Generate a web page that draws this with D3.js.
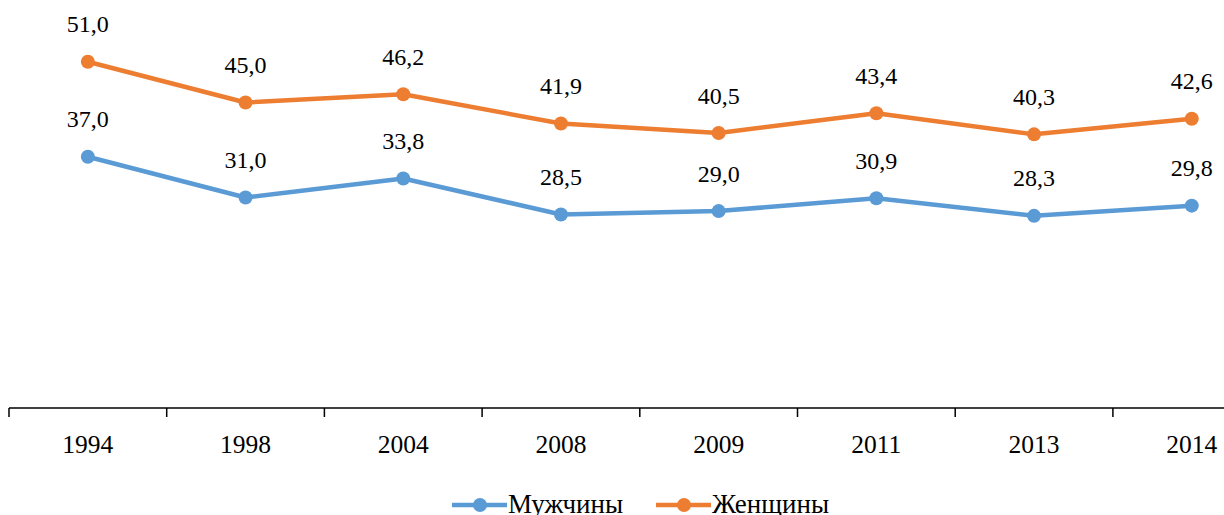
<!DOCTYPE html>
<html>
<head>
<meta charset="utf-8">
<script src="https://cdn.jsdelivr.net/npm/d3@7"></script>
<style>
  html, body { margin: 0; padding: 0; background: #fff; }
  svg { display: block; }
  svg text { font-family: 'Liberation Serif', 'Times New Roman', Times, serif; }
</style>
</head>
<body>
<svg id="chart" width="1224" height="515"></svg>
<script>
const years = ["1994", "1998", "2004", "2008", "2009", "2011", "2013", "2014"];
const men   = [37.0, 31.0, 33.8, 28.5, 29.0, 30.9, 28.3, 29.8];
const women = [51.0, 45.0, 46.2, 41.9, 40.5, 43.4, 40.3, 42.6];
const seriesNames  = ["Мужчины", "Женщины"];
const seriesColors = ["#5B9BD5", "#ED7D31"];

const FONT = "'Liberation Serif', 'Times New Roman', Times, serif";
const svg = d3.select("#chart");
const fmt = v => d3.format(".1f")(v).replace(".", ",");

// the category band runs on past the right edge of the drawing
const x = d3.scaleBand().domain(years).range([9, 1270.6]).padding(0);
const y = d3.scaleLinear().domain([0, 60]).range([408, 408 - 60 * 6.79]);
const cx = (d, i) => x(years[i]) + x.bandwidth() / 2;

// category axis
const axis = svg.append("g")
  .attr("transform", "translate(0,408)")
  .call(d3.axisBottom(x).tickSize(0).tickPadding(27))
  .attr("font-family", FONT);
axis.select(".domain").attr("stroke", "#000").attr("stroke-width", 1.5)
  .attr("d", `M${x.range()[0]},0H${x.range()[1]}`);
axis.selectAll(".tick text").attr("font-size", 25.5).attr("fill", "#000")
  .style("font-family", FONT);
axis.selectAll(".tick line").remove();
// tick marks sit between categories
axis.selectAll(".sep").data(years).enter().append("line")
  .attr("class", "sep")
  .attr("x1", d => x(d)).attr("x2", d => x(d))
  .attr("y1", 0).attr("y2", 9)
  .attr("stroke", "#000").attr("stroke-width", 1.5);

const series = [men, women];
const line = d3.line().x(cx).y(d => y(d));

series.forEach((vals, s) => {
  const g = svg.append("g");
  g.append("path").datum(vals)
    .attr("d", line)
    .attr("fill", "none")
    .attr("stroke", seriesColors[s])
    .attr("stroke-width", 4.5)
    .attr("stroke-linejoin", "round");
  g.selectAll("circle").data(vals).enter().append("circle")
    .attr("cx", cx)
    .attr("cy", d => y(d))
    .attr("r", 7)
    .attr("fill", seriesColors[s]);
  g.selectAll("text").data(vals).enter().append("text")
    .attr("x", cx)
    .attr("y", d => y(d) - 29.5)
    .attr("text-anchor", "middle")
    .attr("font-size", 24)
    .attr("fill", "#000")
    .style("font-family", FONT)
    .text(fmt);
});

// legend
const legendItems = [
  { x: 452, name: seriesNames[0], color: seriesColors[0] },
  { x: 656, name: seriesNames[1], color: seriesColors[1] }
];
const lg = svg.append("g");
legendItems.forEach(it => {
  lg.append("line")
    .attr("x1", it.x).attr("x2", it.x + 55)
    .attr("y1", 505).attr("y2", 505)
    .attr("stroke", it.color).attr("stroke-width", 4.5);
  lg.append("circle")
    .attr("cx", it.x + 28).attr("cy", 505).attr("r", 7)
    .attr("fill", it.color);
  lg.append("text")
    .attr("x", it.x + 56).attr("y", 513)
    .attr("font-size", 27).attr("fill", "#000")
    .style("font-family", FONT)
    .text(it.name);
});
</script>
</body>
</html>
